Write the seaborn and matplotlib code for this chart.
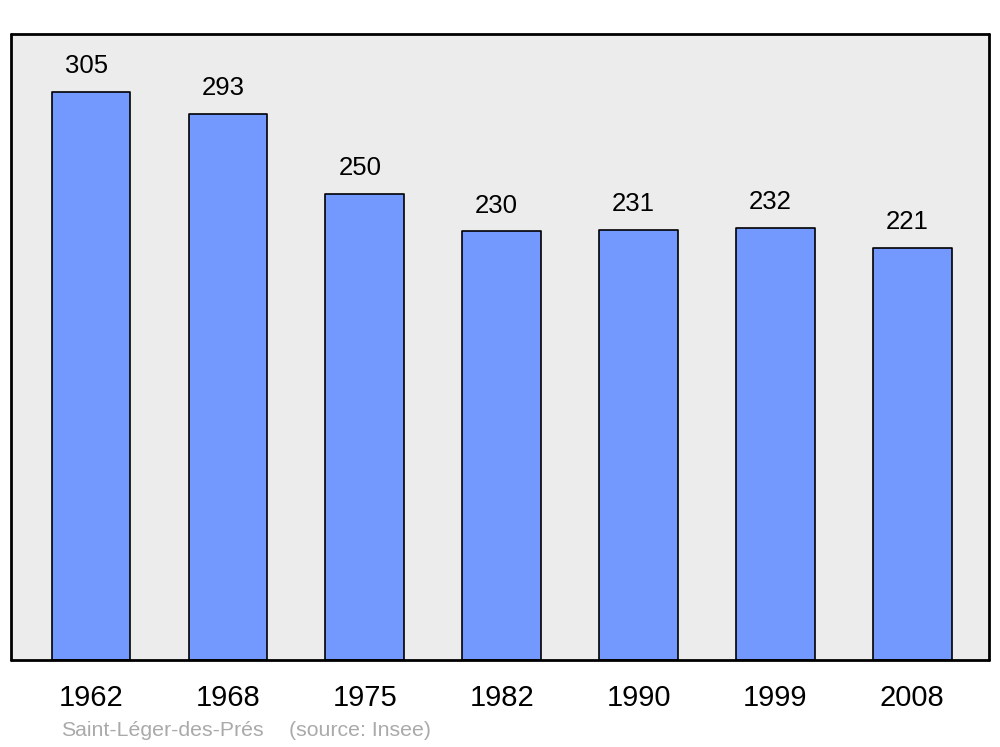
import pandas as pd
import seaborn as sns
import matplotlib.pyplot as plt

# Population data
years = ["1962", "1968", "1975", "1982", "1990", "1999", "2008"]
population = [305, 293, 250, 230, 231, 232, 221]
commune = "Saint-Léger-des-Prés"
source = "(source: Insee)"

data = pd.DataFrame({"year": years, "pop": population})

sns.set_style("white")
plt.rcParams["font.family"] = ["Liberation Sans", "DejaVu Sans"]

fig = plt.figure(figsize=(10, 7.47), dpi=100)
ax = fig.add_axes([0.011, 0.1165, 0.978, 0.838])
ax.set_facecolor("#ececec")

sns.barplot(x="year", y="pop", data=data, color="#7399ff", width=0.575,
            saturation=1, edgecolor="black", linewidth=1.2, ax=ax)
for bar in ax.patches:
    bar.set_joinstyle("round")

# Value labels above bars (slightly left of centre, as in the original)
for i, v in enumerate(population):
    ax.annotate(str(v), (i, v), xytext=(-3.6, 10), textcoords="offset points",
                ha="center", va="bottom", fontsize=18.5, color="black")

ax.set_xlim(-0.585, 6.56)
ax.set_ylim(0, 336)
ax.set_yticks([])
ax.set_xlabel("")
ax.set_ylabel("")
ax.tick_params(axis="x", length=0, labelsize=21, pad=17, labelcolor="black")
for lbl in ax.get_xticklabels():
    lbl.set_x(lbl.get_position()[0])

for s in ax.spines.values():
    s.set_visible(True)
    s.set_linewidth(2)
    s.set_color("black")
    s.set_capstyle("round")
    s.set_joinstyle("round")

fig.text(0.061, 0.022, commune, fontsize=15.3, color="#aaaaaa",
         ha="left", va="center")
fig.text(0.289, 0.022, source, fontsize=15.3, color="#aaaaaa",
         ha="left", va="center")

plt.savefig("out.png", dpi=100)
